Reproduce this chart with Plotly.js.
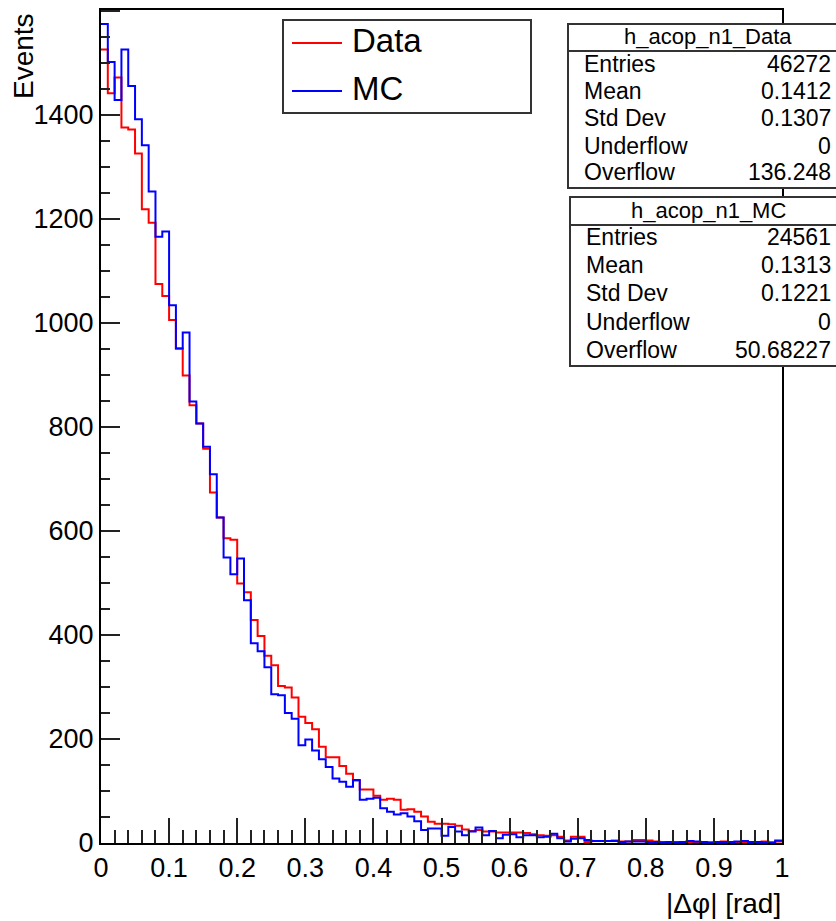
<!DOCTYPE html>
<html>
<head>
<meta charset="utf-8">
<script src="https://cdn.plot.ly/plotly-3.0.1.min.js"></script>
<style>
  html, body { margin: 0; padding: 0; background: #fff; }
  #chart { width: 836px; height: 921px; }
</style>
</head>
<body>
<div id="chart"></div>
<script>
// Binning of |delta phi| histograms: 100 bins on [0, 1] rad
const nBins = 100;
const xMin = 0;
const xMax = 1;

// Bin contents, Data (h_acop_n1_Data)
const dataCounts = [
  1526, 1442, 1472, 1376, 1372, 1326, 1219, 1193, 1075, 1052,
  1006,  951,  899,  842,  807,  758,  674,  626,  586,  583,
   499,  482,  429,  398,  360,  342,  302,  299,  280,  243,
   231,  219,  185,  165,  165,  148,  133,  120,  103,  103,
    91,   83,   85,   83,   64,   65,   60,   51,   41,   37,
    37,   36,   33,   26,   23,   25,   22,   22,   20,   20,
    20,   20,   19,   17,   15,   14,   15,   12,    5,   12,
    12,    2,    4,    4,    4,    5,    3,    3,    6,    6,
     5,    3,    2,    2,    2,    2,    2,    1,    2,    1,
     1,    3,    2,    1,    2,    2,    1,    3,    1,    3
];

// Bin contents, MC (h_acop_n1_MC)
const mcCounts = [
  1575, 1502, 1429, 1526, 1456, 1392, 1342, 1253, 1166, 1176,
  1034,  951,  982,  849,  807,  762,  709,  626,  549,  517,
   547,  467,  384,  369,  338,  286,  284,  250,  239,  188,
   199,  178,  161,  146,  124,  118,  108,  121,   83,   85,
    87,   67,   60,   55,   57,   51,   42,   25,   28,   28,
    14,   31,   22,   15,   22,   30,   15,   23,    9,   16,
    17,   11,   15,   15,   11,   12,   18,    9,    3,    8,
     9,    6,    4,    4,    4,    4,    2,    3,    3,    3,
     2,    2,    1,    2,    1,    2,    4,    3,    2,    1,
     2,    2,    2,    3,    4,    2,    2,    1,    1,    5
];

const seriesNames = ['Data', 'MC'];
const histNames = ['h_acop_n1_Data', 'h_acop_n1_MC'];
const statLabels = ['Entries', 'Mean', 'Std Dev', 'Underflow', 'Overflow'];
const dataStats = ['46272', '0.1412', '0.1307', '0', '136.248'];
const mcStats = ['24561', '0.1313', '0.1221', '0', '50.68227'];

const xTitle = '|\u0394\u03c6| [rad]';
const yTitle = 'Events';

// ---- drawing ----
const FONT = 'Liberation Sans, Arial, Helvetica, sans-serif';
const W = 836, H = 921;
const M = { l: 101, r: 54, t: 10, b: 78 };
const PW = W - M.l - M.r, PH = H - M.t - M.b;
const px = v => (v - M.l) / PW;           // canvas x -> paper x
const py = v => (H - M.b - v) / PH;       // canvas y -> paper y

const binW = (xMax - xMin) / nBins;
const edges = [];
for (let i = 0; i <= nBins; i++) edges.push(+(xMin + i * binW).toFixed(6));

function stepTrace(counts, color, name) {
  return {
    type: 'scatter', mode: 'lines', name: name,
    x: edges,
    y: counts.concat([counts[counts.length - 1]]),
    line: { shape: 'hv', color: color, width: 2 },
    hoverinfo: 'skip', showlegend: false
  };
}

const colors = ['#ff0000', '#0000ff'];
const traces = [
  stepTrace(dataCounts, colors[0], seriesNames[0]),
  stepTrace(mcCounts, colors[1], seriesNames[1])
];

const shapes = [];
const annotations = [];

// Legend box
shapes.push({ type: 'rect', xref: 'paper', yref: 'paper', layer: 'above',
  x0: px(283), x1: px(531), y0: py(113), y1: py(20),
  line: { color: '#333', width: 2 }, fillcolor: 'rgba(255,255,255,1)' });
const legRows = [43, 91];
seriesNames.forEach((n, i) => {
  shapes.push({ type: 'line', xref: 'paper', yref: 'paper', layer: 'above',
    x0: px(292), x1: px(342), y0: py(legRows[i]), y1: py(legRows[i]),
    line: { color: colors[i], width: 2 } });
  annotations.push({ xref: 'paper', yref: 'paper', x: px(350), y: py(legRows[i] - 2),
    xanchor: 'left', yanchor: 'middle', showarrow: false, text: n,
    font: { family: FONT, size: 33, color: '#000' } });
});

// Statistics boxes
function statBox(box, title, values) {
  shapes.push({ type: 'rect', xref: 'paper', yref: 'paper', layer: 'above',
    x0: px(box.left), x1: px(845), y0: py(box.bottom), y1: py(box.top),
    line: { color: '#333', width: 2 }, fillcolor: '#fff' });
  shapes.push({ type: 'line', xref: 'paper', yref: 'paper', layer: 'above',
    x0: px(box.left), x1: px(845), y0: py(box.sep), y1: py(box.sep),
    line: { color: '#333', width: 2 } });
  annotations.push({ xref: 'paper', yref: 'paper', x: px(708), y: py(box.titleY),
    xanchor: 'center', yanchor: 'middle', showarrow: false, text: title,
    font: { family: FONT, size: 22, color: '#000' } });
  statLabels.forEach((lab, i) => {
    annotations.push({ xref: 'paper', yref: 'paper', x: px(box.left + 14), y: py(box.rows[i]),
      xanchor: 'left', yanchor: 'middle', showarrow: false, text: lab,
      font: { family: FONT, size: 23, color: '#000' } });
    annotations.push({ xref: 'paper', yref: 'paper', x: px(833), y: py(box.rows[i]),
      xanchor: 'right', yanchor: 'middle', showarrow: false, text: values[i],
      font: { family: FONT, size: 23, color: '#000' } });
  });
}
statBox({ left: 568, top: 24, sep: 51, bottom: 188, titleY: 37,
          rows: [64, 91, 118, 146, 172] }, histNames[0], dataStats);
statBox({ left: 570, top: 197, sep: 225, bottom: 366, titleY: 211,
          rows: [237, 265, 293, 322, 350] }, histNames[1], mcStats);

// Axis titles
annotations.push({ xref: 'paper', yref: 'paper', x: px(783), y: py(904),
  xanchor: 'right', yanchor: 'middle', showarrow: false, text: xTitle,
  font: { family: FONT, size: 28, color: '#000' } });
annotations.push({ xref: 'paper', yref: 'paper', x: px(24), y: py(101),
  xanchor: 'center', yanchor: 'bottom', textangle: -90, showarrow: false, text: yTitle,
  font: { family: FONT, size: 28, color: '#000' } });

const axisCommon = {
  showgrid: false, zeroline: false, showline: true, mirror: true,
  linecolor: '#000', linewidth: 2,
  ticks: 'inside', tickwidth: 2, tickcolor: '#222',
  tickfont: { family: FONT, size: 27, color: '#000' },
  fixedrange: true
};

const layout = {
  width: W, height: H,
  margin: M,
  paper_bgcolor: '#fff', plot_bgcolor: '#fff',
  showlegend: false,
  xaxis: Object.assign({}, axisCommon, {
    range: [xMin, xMax], tick0: 0, dtick: 0.1, ticklen: 25,
    ticklabelstandoff: 0,
    minor: { dtick: 0.02, ticks: 'inside', ticklen: 13, tickwidth: 2, tickcolor: '#222' }
  }),
  yaxis: Object.assign({}, axisCommon, {
    range: [0, 1602], tick0: 0, dtick: 200, ticklen: 19,
    ticklabelstandoff: 0,
    minor: { dtick: 50, ticks: 'inside', ticklen: 9, tickwidth: 2, tickcolor: '#222' }
  }),
  shapes: shapes,
  annotations: annotations
};

Plotly.newPlot('chart', traces, layout, { displayModeBar: false, staticPlot: true });
</script>
</body>
</html>
